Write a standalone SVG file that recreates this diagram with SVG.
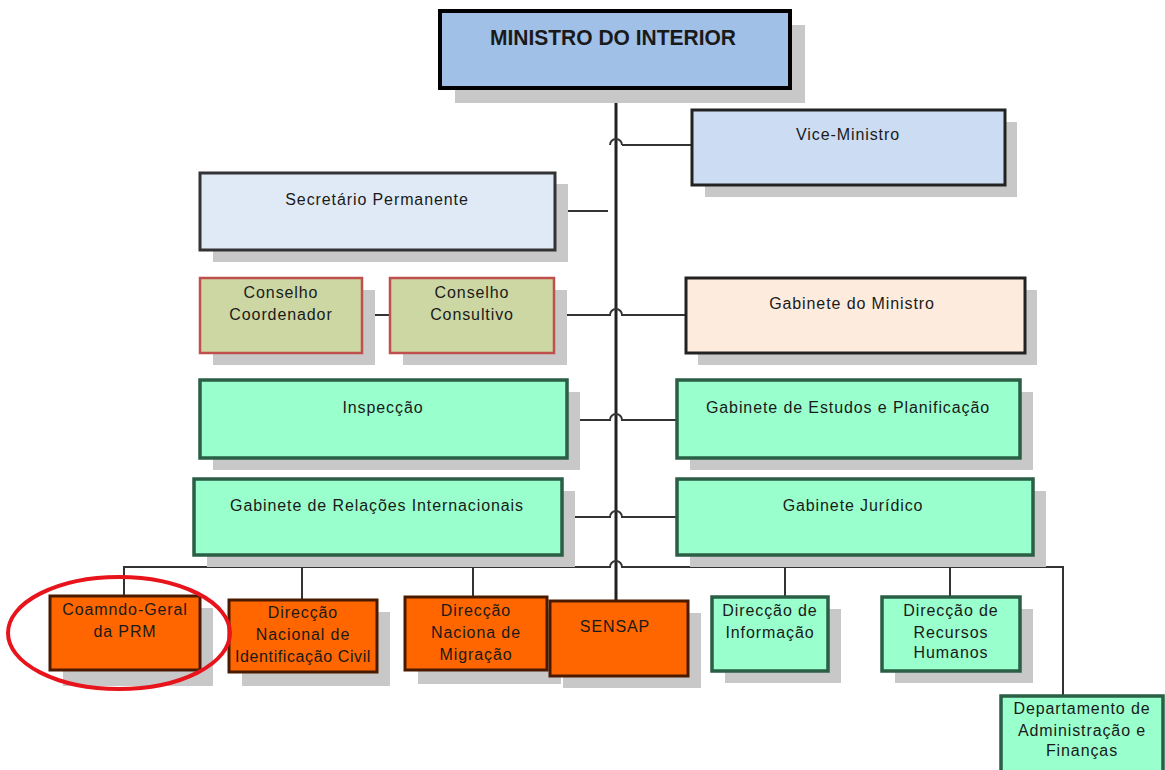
<svg xmlns="http://www.w3.org/2000/svg" width="1165" height="770" viewBox="0 0 1165 770">
<style>
text{font-family:"Liberation Sans",Arial,sans-serif;font-size:16px;letter-spacing:0.9px;fill:#1a1a1a;text-anchor:middle}
.sh{fill:#c8c8c8}
.blue{fill:#a0c0e8;stroke:#000;stroke-width:4}
.vice{fill:#cbdcf3;stroke:#222;stroke-width:3}
.sec{fill:#e0eaf6;stroke:#333;stroke-width:3}
.cons{fill:#ccd7a3;stroke:#c0504d;stroke-width:2.5}
.gab{fill:#fdebdd;stroke:#222;stroke-width:3}
.mint{fill:#99ffcc;stroke:#2a5e45;stroke-width:3.5}
.org{fill:#ff6600;stroke:#4a1a00;stroke-width:3}
.ln{fill:none;stroke:#333;stroke-width:2}
.main{fill:none;stroke:#222;stroke-width:3}
</style>
<g id="connectors">
<path class="main" d="M616 88 V600"/>
<path class="ln" d="M622 145 H692"/>
<path class="ln" d="M610 145 a6 6 0 0 1 12 0"/>
<path class="ln" d="M555 211 H608"/>
<path class="ln" d="M362 315 H390"/>
<path class="ln" d="M554 315 H610 a6 6 0 0 1 12 0 H686"/>
<path class="ln" d="M567 420 H610 a6 6 0 0 1 12 0 H677"/>
<path class="ln" d="M562 517 H610 a6 6 0 0 1 12 0 H677"/>
<path class="ln" d="M124 596 V567 H610 a6 6 0 0 1 12 0 H1063 V697"/>
<path class="ln" d="M302 567 V610"/>
<path class="ln" d="M473 567 V597"/>
<path class="ln" d="M785 567 V597"/>
<path class="ln" d="M950 567 V597"/>
</g>
<g id="ministro">
<rect class="sh" x="455" y="25" width="350" height="78"/>
<rect class="blue" x="440" y="11" width="350" height="77"/>
<text x="613" y="45" textLength="246" lengthAdjust="spacingAndGlyphs" style="font-weight:bold;font-size:22px;letter-spacing:0">MINISTRO DO INTERIOR</text>
</g>
<g id="vice">
<rect class="sh" x="705" y="122" width="312" height="75"/>
<rect class="vice" x="692" y="110" width="313" height="75"/>
<text x="848" y="140">Vice-Ministro</text>
</g>
<g id="secretario">
<rect class="sh" x="213" y="184" width="355" height="78"/>
<rect class="sec" x="200" y="173" width="355" height="77"/>
<text x="377" y="205">Secretário Permanente</text>
</g>
<g id="coordenador">
<rect class="sh" x="213" y="290" width="162" height="75"/>
<rect class="cons" x="200" y="278" width="162" height="75"/>
<text x="281" y="298">Conselho</text>
<text x="281" y="320">Coordenador</text>
</g>
<g id="consultivo">
<rect class="sh" x="403" y="290" width="164" height="75"/>
<rect class="cons" x="390" y="278" width="164" height="75"/>
<text x="472" y="298">Conselho</text>
<text x="472" y="320">Consultivo</text>
</g>
<g id="gabinete-ministro">
<rect class="sh" x="698" y="290" width="339" height="75"/>
<rect class="gab" x="686" y="278" width="339" height="75"/>
<text x="852" y="309">Gabinete do Ministro</text>
</g>
<g id="inspeccao">
<rect class="sh" x="213" y="392" width="367" height="78"/>
<rect class="mint" x="200" y="380" width="367" height="78"/>
<text x="383" y="413">Inspecção</text>
</g>
<g id="estudos">
<rect class="sh" x="690" y="392" width="343" height="78"/>
<rect class="mint" x="677" y="380" width="343" height="78"/>
<text x="848" y="413">Gabinete de Estudos e Planificação</text>
</g>
<g id="relacoes">
<rect class="sh" x="207" y="491" width="368" height="76"/>
<rect class="mint" x="194" y="479" width="368" height="76"/>
<text x="377" y="511">Gabinete de Relações Internacionais</text>
</g>
<g id="juridico">
<rect class="sh" x="690" y="491" width="356" height="76"/>
<rect class="mint" x="677" y="479" width="356" height="76"/>
<text x="853" y="511">Gabinete Jurídico</text>
</g>
<g id="prm">
<rect class="sh" x="63" y="608" width="150" height="78"/>
<rect class="org" x="50" y="596" width="150" height="74"/>
<text x="125" y="615">Coamndo-Geral</text>
<text x="125" y="637">da PRM</text>
</g>
<g id="dnic">
<rect class="sh" x="242" y="612" width="148" height="74"/>
<rect class="org" x="229" y="600" width="148" height="72"/>
<text x="303" y="618">Direcção</text>
<text x="303" y="640">Nacional de</text>
<text x="303" y="662" style="letter-spacing:0.6px">Identificação Civil</text>
</g>
<g id="migracao">
<rect class="sh" x="418" y="609" width="143" height="75"/>
<rect class="org" x="405" y="597" width="142" height="73"/>
<text x="476" y="616">Direcção</text>
<text x="476" y="638">Naciona de</text>
<text x="476" y="660">Migração</text>
</g>
<g id="sensap">
<rect class="sh" x="563" y="613" width="138" height="75"/>
<rect class="org" x="550" y="601" width="138" height="75"/>
<text x="615" y="632">SENSAP</text>
</g>
<g id="informacao">
<rect class="sh" x="725" y="609" width="116" height="74"/>
<rect class="mint" x="712" y="597" width="116" height="74"/>
<text x="770" y="616">Direcção de</text>
<text x="770" y="638">Informação</text>
</g>
<g id="recursos">
<rect class="sh" x="895" y="609" width="138" height="74"/>
<rect class="mint" x="882" y="597" width="138" height="74"/>
<text x="951" y="616">Direcção de</text>
<text x="951" y="638">Recursos</text>
<text x="951" y="658">Humanos</text>
</g>
<g id="administracao">
<rect class="mint" x="1001" y="696" width="162" height="76"/>
<text x="1082" y="714">Departamento de</text>
<text x="1082" y="736">Administração e</text>
<text x="1082" y="756">Finanças</text>
</g>
<g id="highlight">
<ellipse cx="119" cy="633" rx="111" ry="56" fill="none" stroke="#e8141c" stroke-width="4"/>
</g>
</svg>
